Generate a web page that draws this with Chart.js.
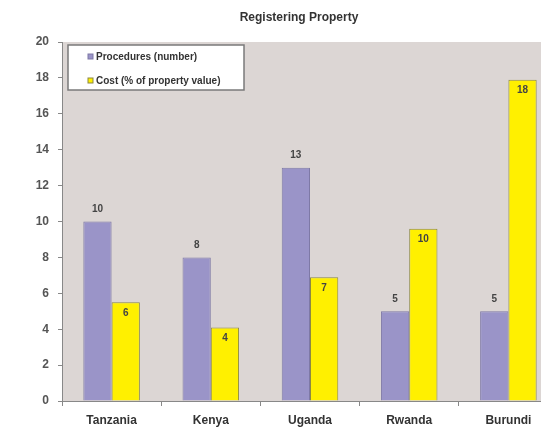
<!DOCTYPE html>
<html>
<head>
<meta charset="utf-8">
<script src="https://cdn.jsdelivr.net/npm/chart.js@4/dist/chart.umd.min.js"></script>
<style>
  html, body { margin: 0; padding: 0; background: #fff; overflow: hidden; }
  #wrap { position: relative; width: 560px; height: 428px; }
</style>
</head>
<body>
<div id="wrap"><canvas id="chart" width="560" height="428"></canvas></div>
<script>
const countries = ["Tanzania", "Kenya", "Uganda", "Rwanda", "Burundi"];
const procedures = [10, 8, 13, 5, 5];
const cost = [5.5, 4.1, 6.9, 9.6, 17.9];
const procLabels = ["10", "8", "13", "5", "5"];
const costLabels = ["6", "4", "7", "10", "18"];
const seriesNames = ["Procedures (number)", "Cost (% of property value)"];
const chartTitle = "Registering Property";

const FONT = "'Liberation Sans', Arial, sans-serif";

// grey plot background
const plotBg = {
  id: "plotBg",
  beforeDraw(chart) {
    const { ctx, chartArea: a } = chart;
    ctx.save();
    ctx.fillStyle = "#dcd6d4";
    ctx.fillRect(a.left, a.top, a.right - a.left, a.bottom - a.top);
    ctx.restore();
  }
};

// value labels: above purple bars, inside top of yellow bars
const valueLabels = {
  id: "valueLabels",
  afterDatasetsDraw(chart) {
    const ctx = chart.ctx;
    ctx.save();
    ctx.font = "bold 10px " + FONT;
    ctx.fillStyle = "#444";
    ctx.textAlign = "center";
    ctx.textBaseline = "middle";
    chart.getDatasetMeta(0).data.forEach((bar, i) => {
      ctx.fillText(procLabels[i], bar.x, bar.y - 12);
    });
    chart.getDatasetMeta(1).data.forEach((bar, i) => {
      ctx.fillText(costLabels[i], bar.x, bar.y + 11);
    });
    ctx.restore();
  }
};

// title and boxed legend
const titleLegend = {
  id: "titleLegend",
  afterDraw(chart) {
    const ctx = chart.ctx;
    ctx.save();
    ctx.font = "bold 12px " + FONT;
    ctx.fillStyle = "#333";
    ctx.textAlign = "center";
    ctx.textBaseline = "middle";
    ctx.fillText(chartTitle, 299, 18);

    ctx.fillStyle = "#fff";
    ctx.fillRect(68, 45, 176, 45);
    ctx.strokeStyle = "#7a7a7a";
    ctx.lineWidth = 1.5;
    ctx.strokeRect(68, 45, 176, 45);

    const ys = [57, 81];
    ctx.font = "bold 10px " + FONT;
    ctx.textAlign = "left";
    chart.data.datasets.forEach((ds, i) => {
      ctx.fillStyle = ds.backgroundColor;
      ctx.fillRect(88, ys[i] - 3, 5, 5);
      ctx.strokeStyle = ds.borderColor;
      ctx.lineWidth = 1;
      ctx.strokeRect(88, ys[i] - 3, 5, 5);
      ctx.fillStyle = "#333";
      ctx.fillText(seriesNames[i], 96, ys[i]);
    });
    ctx.restore();
  }
};

new Chart(document.getElementById("chart"), {
  type: "bar",
  data: {
    labels: countries,
    datasets: [
      {
        label: seriesNames[0],
        data: procedures,
        backgroundColor: "#9a94c8",
        borderColor: "#7e79a6",
        borderWidth: 1
      },
      {
        label: seriesNames[1],
        data: cost,
        backgroundColor: "#fff000",
        borderColor: "#8c8842",
        borderWidth: 1
      }
    ]
  },
  options: {
    responsive: false,
    animation: false,
    layout: { padding: { top: 42, right: 2, left: 0, bottom: 0 } },
    datasets: { bar: { categoryPercentage: 0.57, barPercentage: 1.0 } },
    plugins: { legend: { display: false }, title: { display: false }, tooltip: { enabled: false } },
    scales: {
      x: {
        grid: { offset: true, drawOnChartArea: false, tickLength: 5, color: "#888" },
        border: { color: "#888", width: 1 },
        ticks: { font: { family: FONT, size: 12, weight: "bold" }, color: "#333", padding: 7 },
        afterFit(scale) { scale.height = 27; }
      },
      y: {
        min: 0,
        max: 20,
        ticks: { stepSize: 2, font: { family: FONT, size: 12, weight: "bold" }, color: "#555", padding: 9 },
        grid: { drawOnChartArea: false, tickLength: 4, color: "#888" },
        border: { color: "#888", width: 1 },
        afterFit(scale) { scale.width = 62; }
      }
    }
  },
  plugins: [plotBg, valueLabels, titleLegend]
});
</script>
</body>
</html>
